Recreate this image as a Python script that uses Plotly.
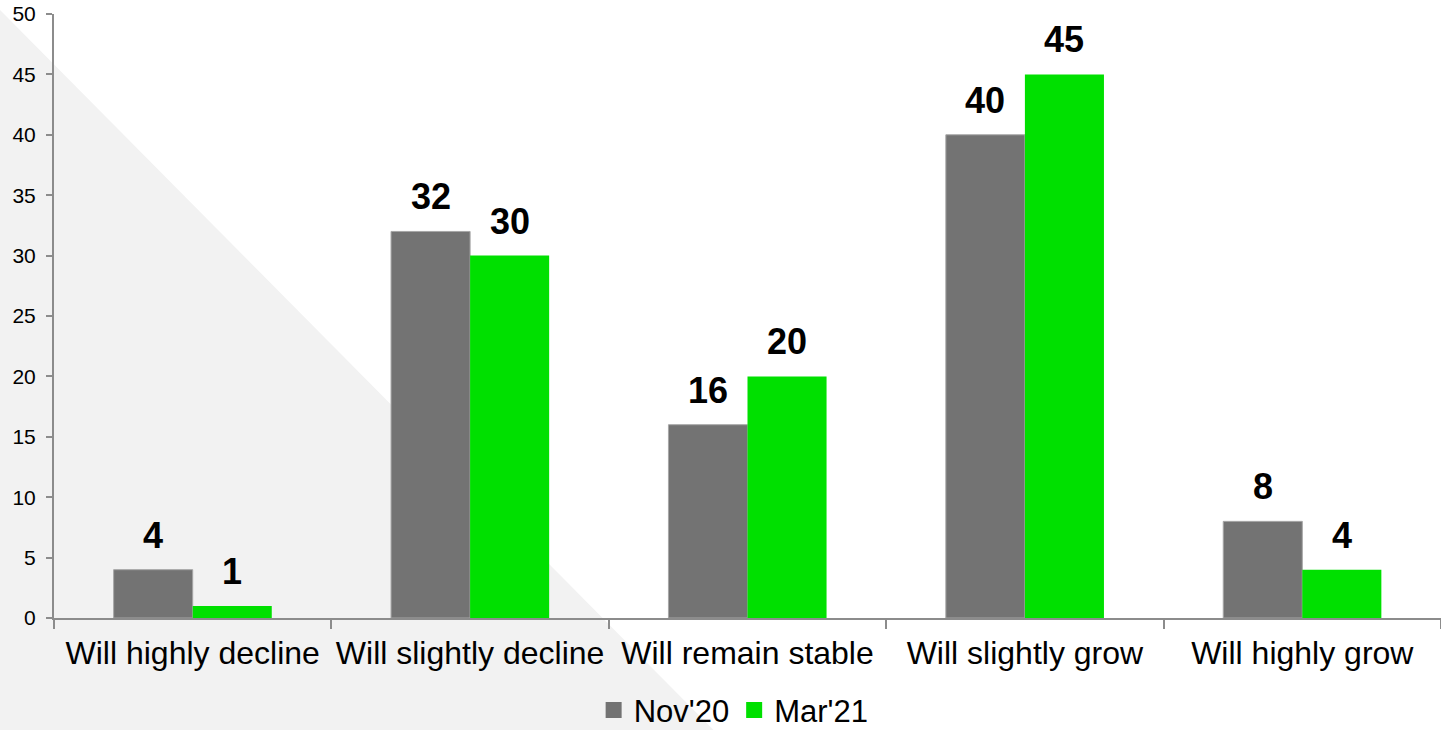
import plotly.graph_objects as go

categories = ["Will highly decline", "Will slightly decline", "Will remain stable",
              "Will slightly grow", "Will highly grow"]
nov20 = [4, 32, 16, 40, 8]
mar21 = [1, 30, 20, 45, 4]
series_names = ["Nov'20", "Mar'21"]
y_ticks = [0, 5, 10, 15, 20, 25, 30, 35, 40, 45, 50]

GRAY = "#737373"
GREEN = "#00e000"
AXIS = "#8c8c8c"
FONT = "Liberation Sans, Arial, sans-serif"

fig = go.Figure()
fig.add_trace(go.Bar(name=series_names[0], x=categories, y=nov20, showlegend=False,
                     marker=dict(color=GRAY, line=dict(color="#a6a6a6", width=1))))
fig.add_trace(go.Bar(name=series_names[1], x=categories, y=mar21, showlegend=False,
                     marker=dict(color=GREEN, line=dict(color=GREEN, width=0))))

# legend entries with larger square swatches
for name, color in zip(series_names, (GRAY, GREEN)):
    fig.add_trace(go.Scatter(name=name, x=[None], y=[None], mode="markers",
                             marker=dict(symbol="square", size=16, color=color),
                             showlegend=True))

# value labels above each bar, offset to the left/right half of each group
half_bar = 39.5
for vals, shift in ((nov20, -half_bar), (mar21, half_bar)):
    for cat, v in zip(categories, vals):
        fig.add_annotation(x=cat, y=v, text=f"<b>{v}</b>", showarrow=False,
                           xshift=shift, yshift=12, yanchor="bottom",
                           font=dict(family=FONT, size=36, color="#000000"))

# light diagonal backdrop in the lower-left corner
fig.add_shape(type="path", xref="paper", yref="paper", layer="below",
              path="M -0.0389 1.0066 L -0.0389 -0.2 L 0.4818 -0.2 Z",
              fillcolor="#f2f2f2", line=dict(width=0))

fig.update_layout(
    width=1441, height=730,
    margin=dict(l=54, r=0, t=14, b=112, autoexpand=False),
    paper_bgcolor="white", plot_bgcolor="rgba(0,0,0,0)",
    barmode="group", bargap=0.43, bargroupgap=0,
    font=dict(family=FONT, color="#000000"),
    showlegend=True,
    legend=dict(orientation="h", x=0.49, xanchor="center", y=-0.153, yanchor="middle",
                font=dict(family=FONT, size=31), itemwidth=30, itemsizing="trace",
                bgcolor="rgba(0,0,0,0)", traceorder="normal"),
)
fig.update_xaxes(showline=True, linecolor=AXIS, linewidth=2, ticks="outside",
                 tickson="boundaries", ticklen=9, tickcolor=AXIS, tickwidth=2,
                 tickfont=dict(family=FONT, size=32), tickangle=0, showgrid=False,
                 automargin=False, ticklabelstandoff=6)
fig.update_yaxes(range=[0, 50], tickvals=y_ticks, showline=True, linecolor=AXIS,
                 linewidth=2, ticks="outside", ticklen=6, tickcolor=AXIS, tickwidth=2,
                 tickfont=dict(family=FONT, size=21), showgrid=False, zeroline=False,
                 automargin=False, ticklabelstandoff=6)

fig.write_html("out.html")
